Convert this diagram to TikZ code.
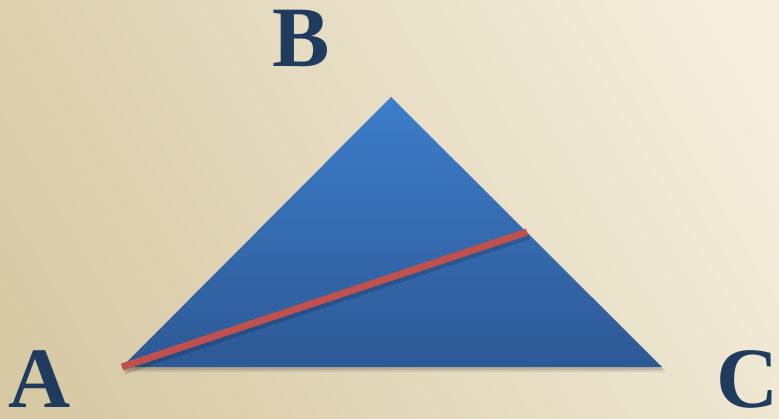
\documentclass[tikz,border=0pt]{standalone}
\usepackage{fontspec}
\setmainfont{Liberation Serif}
\definecolor{bgA}{HTML}{D7C9A4}
\definecolor{bgB}{HTML}{F4EEDD}
\definecolor{triTop}{HTML}{3D7DCB}
\definecolor{triBot}{HTML}{2D5994}
\definecolor{seg}{HTML}{C0504D}
\definecolor{lab}{HTML}{1F3B5E}
\tikzset{
  letter/.style={font=\fontsize{86}{86}\selectfont\bfseries, text=lab, inner sep=0pt, anchor=base},
}
\begin{document}
\begin{tikzpicture}[x=1pt,y=1pt]
\useasboundingbox (0,0) rectangle (779,418);
\shade[left color=bgA, right color=bgB, shading angle=120] (-60,-60) rectangle (839,478);
\coordinate (pA) at (122,51);
\coordinate (pB) at (391,321);
\coordinate (pC) at (662,51);
\coordinate (pD) at (527,186);
\fill[black, opacity=0.08] ([xshift=4pt,yshift=-5pt]pA) -- ([xshift=4pt,yshift=-5pt]pB) -- ([xshift=4pt,yshift=-5pt]pC) -- cycle;
\fill[black, opacity=0.12] ([xshift=2pt,yshift=-3pt]pA) -- ([xshift=2pt,yshift=-3pt]pB) -- ([xshift=2pt,yshift=-3pt]pC) -- cycle;
\shade[top color=triTop, bottom color=triBot] (pA) -- (pB) -- (pC) -- cycle;
\draw[black, opacity=0.15, line width=7pt] ([xshift=2pt,yshift=-4pt]pA) -- ([xshift=2pt,yshift=-4pt]pD);
\draw[seg, line width=7pt] (pA) -- (pD);
\node[letter] (B) at (301,351) {B};
\node[letter] (A) at (40,11) {A};
\node[letter] (C) at (748,11) {C};
\end{tikzpicture}
\end{document}
